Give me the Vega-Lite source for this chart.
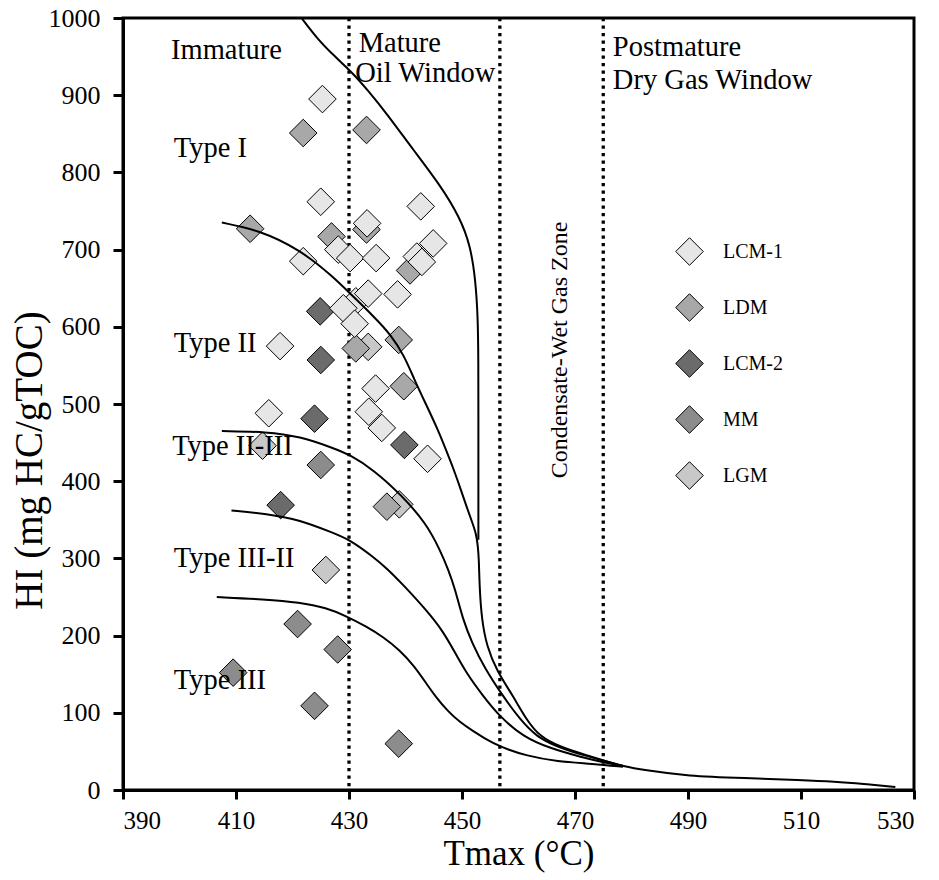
{
  "$schema": "https://vega.github.io/schema/vega-lite/v6.json",
  "width": 791,
  "height": 772,
  "autosize": {"type": "none"},
  "padding": {"left": 123, "top": 18, "right": 25, "bottom": 90},
  "background": "white",
  "config": {
    "font": "Liberation Serif",
    "view": {"stroke": "black", "strokeWidth": 3},
    "axis": {
      "grid": false,
      "domainColor": "black",
      "domainWidth": 3,
      "tickColor": "black",
      "tickWidth": 3,
      "labelColor": "black",
      "titleColor": "black",
      "labelFont": "Liberation Serif",
      "titleFont": "Liberation Serif",
      "titleFontWeight": "normal",
      "labelFontSize": 25,
      "titleFontSize": 35
    }
  },
  "datasets": {
    "pts": [
      {"g": "LGM", "t": 433.4, "hi": 574},
      {"g": "LGM", "t": 414.7, "hi": 446},
      {"g": "LGM", "t": 438.9, "hi": 370},
      {"g": "LGM", "t": 425.9, "hi": 285},
      {"g": "MM", "t": 425.0, "hi": 421},
      {"g": "MM", "t": 420.9, "hi": 215},
      {"g": "MM", "t": 428.0, "hi": 182},
      {"g": "MM", "t": 409.5, "hi": 152},
      {"g": "MM", "t": 423.9, "hi": 109},
      {"g": "MM", "t": 438.8, "hi": 60},
      {"g": "LCM-2", "t": 424.9, "hi": 620},
      {"g": "LCM-2", "t": 425.0, "hi": 557},
      {"g": "LCM-2", "t": 423.9, "hi": 481},
      {"g": "LCM-2", "t": 439.8, "hi": 447},
      {"g": "LCM-2", "t": 417.9, "hi": 369},
      {"g": "LDM", "t": 421.9, "hi": 851},
      {"g": "LDM", "t": 433.1, "hi": 855},
      {"g": "LDM", "t": 412.5, "hi": 727},
      {"g": "LDM", "t": 433.1, "hi": 726},
      {"g": "LDM", "t": 426.9, "hi": 717},
      {"g": "LDM", "t": 440.8, "hi": 673},
      {"g": "LDM", "t": 438.8, "hi": 583},
      {"g": "LDM", "t": 431.2, "hi": 572},
      {"g": "LDM", "t": 439.7, "hi": 523},
      {"g": "LDM", "t": 436.7, "hi": 367},
      {"g": "LCM-1", "t": 425.3, "hi": 895},
      {"g": "LCM-1", "t": 425.0, "hi": 762},
      {"g": "LCM-1", "t": 442.7, "hi": 756},
      {"g": "LCM-1", "t": 433.2, "hi": 734},
      {"g": "LCM-1", "t": 444.9, "hi": 708},
      {"g": "LCM-1", "t": 421.9, "hi": 685},
      {"g": "LCM-1", "t": 428.1, "hi": 700},
      {"g": "LCM-1", "t": 430.2, "hi": 689},
      {"g": "LCM-1", "t": 434.8, "hi": 689},
      {"g": "LCM-1", "t": 442.0, "hi": 691},
      {"g": "LCM-1", "t": 442.9, "hi": 684},
      {"g": "LCM-1", "t": 431.2, "hi": 633},
      {"g": "LCM-1", "t": 433.4, "hi": 643},
      {"g": "LCM-1", "t": 438.6, "hi": 642},
      {"g": "LCM-1", "t": 429.0, "hi": 624},
      {"g": "LCM-1", "t": 431.0, "hi": 604},
      {"g": "LCM-1", "t": 417.8, "hi": 575},
      {"g": "LCM-1", "t": 434.7, "hi": 520},
      {"g": "LCM-1", "t": 415.8, "hi": 488},
      {"g": "LCM-1", "t": 433.5, "hi": 490},
      {"g": "LCM-1", "t": 435.8, "hi": 469},
      {"g": "LCM-1", "t": 443.9, "hi": 429}
    ],
    "curves": [
      {"s": "I", "i": 1, "t": 421.6, "hi": 1000},
      {"s": "I", "i": 2, "t": 424.5, "hi": 972},
      {"s": "I", "i": 3, "t": 427.5, "hi": 950},
      {"s": "I", "i": 4, "t": 430.5, "hi": 930},
      {"s": "I", "i": 5, "t": 433.5, "hi": 905},
      {"s": "I", "i": 6, "t": 436.7, "hi": 876},
      {"s": "I", "i": 7, "t": 441.4, "hi": 829},
      {"s": "I", "i": 8, "t": 446.1, "hi": 784},
      {"s": "I", "i": 9, "t": 449.6, "hi": 742},
      {"s": "I", "i": 10, "t": 451.5, "hi": 705},
      {"s": "I", "i": 11, "t": 452.4, "hi": 660},
      {"s": "I", "i": 12, "t": 452.8, "hi": 613},
      {"s": "I", "i": 13, "t": 452.9, "hi": 560},
      {"s": "I", "i": 14, "t": 452.9, "hi": 480},
      {"s": "I", "i": 15, "t": 452.9, "hi": 400},
      {"s": "I", "i": 16, "t": 452.9, "hi": 324},
      {"s": "II", "i": 1, "t": 407.5, "hi": 735},
      {"s": "II", "i": 2, "t": 414.2, "hi": 725},
      {"s": "II", "i": 3, "t": 421.3, "hi": 700},
      {"s": "II", "i": 4, "t": 427.2, "hi": 665},
      {"s": "II", "i": 5, "t": 430.2, "hi": 643},
      {"s": "II", "i": 6, "t": 434.3, "hi": 614},
      {"s": "II", "i": 7, "t": 437.5, "hi": 589},
      {"s": "II", "i": 8, "t": 439.8, "hi": 562},
      {"s": "II", "i": 9, "t": 441.6, "hi": 531},
      {"s": "II", "i": 10, "t": 443.6, "hi": 500},
      {"s": "II", "i": 11, "t": 445.6, "hi": 469},
      {"s": "II", "i": 12, "t": 447.2, "hi": 440},
      {"s": "II", "i": 13, "t": 448.6, "hi": 414},
      {"s": "II", "i": 14, "t": 449.8, "hi": 389},
      {"s": "II", "i": 15, "t": 450.9, "hi": 365},
      {"s": "II", "i": 16, "t": 451.8, "hi": 347},
      {"s": "II", "i": 17, "t": 452.5, "hi": 332},
      {"s": "II", "i": 18, "t": 452.8, "hi": 317},
      {"s": "II", "i": 19, "t": 453.0, "hi": 298},
      {"s": "II", "i": 20, "t": 453.1, "hi": 263},
      {"s": "II", "i": 21, "t": 453.5, "hi": 220},
      {"s": "II", "i": 22, "t": 454.4, "hi": 186},
      {"s": "II", "i": 23, "t": 456.1, "hi": 155},
      {"s": "II", "i": 24, "t": 459.1, "hi": 121},
      {"s": "II", "i": 25, "t": 461.4, "hi": 91},
      {"s": "II", "i": 26, "t": 463.8, "hi": 69},
      {"s": "II", "i": 27, "t": 467.3, "hi": 56},
      {"s": "II", "i": 28, "t": 472.1, "hi": 45},
      {"s": "II", "i": 29, "t": 475.6, "hi": 37},
      {"s": "II", "i": 30, "t": 478.5, "hi": 31},
      {"s": "II", "i": 31, "t": 482.0, "hi": 26},
      {"s": "II", "i": 32, "t": 490.0, "hi": 18},
      {"s": "II", "i": 33, "t": 500.0, "hi": 15.5},
      {"s": "II", "i": 34, "t": 510.0, "hi": 13},
      {"s": "II", "i": 35, "t": 516.0, "hi": 11},
      {"s": "II", "i": 36, "t": 521.0, "hi": 8},
      {"s": "II", "i": 37, "t": 526.7, "hi": 4},
      {"s": "II-III", "i": 1, "t": 407.5, "hi": 465},
      {"s": "II-III", "i": 2, "t": 415.4, "hi": 464},
      {"s": "II-III", "i": 3, "t": 421.3, "hi": 458},
      {"s": "II-III", "i": 4, "t": 427.2, "hi": 443},
      {"s": "II-III", "i": 5, "t": 430.2, "hi": 434},
      {"s": "II-III", "i": 6, "t": 434.3, "hi": 415},
      {"s": "II-III", "i": 7, "t": 439.3, "hi": 382},
      {"s": "II-III", "i": 8, "t": 443.7, "hi": 345},
      {"s": "II-III", "i": 9, "t": 446.1, "hi": 311},
      {"s": "II-III", "i": 10, "t": 447.6, "hi": 285},
      {"s": "II-III", "i": 11, "t": 448.8, "hi": 260},
      {"s": "II-III", "i": 12, "t": 450.1, "hi": 222},
      {"s": "II-III", "i": 13, "t": 451.8, "hi": 190},
      {"s": "II-III", "i": 14, "t": 454.0, "hi": 158},
      {"s": "II-III", "i": 15, "t": 457.3, "hi": 121},
      {"s": "II-III", "i": 16, "t": 460.3, "hi": 91},
      {"s": "II-III", "i": 17, "t": 463.2, "hi": 69},
      {"s": "II-III", "i": 18, "t": 466.8, "hi": 56},
      {"s": "II-III", "i": 19, "t": 471.5, "hi": 45},
      {"s": "II-III", "i": 20, "t": 475.6, "hi": 37},
      {"s": "II-III", "i": 21, "t": 478.5, "hi": 31},
      {"s": "III-II", "i": 1, "t": 409.2, "hi": 362},
      {"s": "III-II", "i": 2, "t": 415.4, "hi": 358},
      {"s": "III-II", "i": 3, "t": 421.3, "hi": 350},
      {"s": "III-II", "i": 4, "t": 427.2, "hi": 333},
      {"s": "III-II", "i": 5, "t": 430.2, "hi": 324},
      {"s": "III-II", "i": 6, "t": 434.3, "hi": 302},
      {"s": "III-II", "i": 7, "t": 436.7, "hi": 287},
      {"s": "III-II", "i": 8, "t": 439.3, "hi": 268},
      {"s": "III-II", "i": 9, "t": 443.7, "hi": 233},
      {"s": "III-II", "i": 10, "t": 446.7, "hi": 205},
      {"s": "III-II", "i": 11, "t": 448.6, "hi": 180},
      {"s": "III-II", "i": 12, "t": 450.8, "hi": 151},
      {"s": "III-II", "i": 13, "t": 453.8, "hi": 121},
      {"s": "III-II", "i": 14, "t": 456.7, "hi": 95},
      {"s": "III-II", "i": 15, "t": 460.8, "hi": 69},
      {"s": "III-II", "i": 16, "t": 465.6, "hi": 54},
      {"s": "III-II", "i": 17, "t": 470.9, "hi": 43},
      {"s": "III-II", "i": 18, "t": 475.6, "hi": 35},
      {"s": "III-II", "i": 19, "t": 478.5, "hi": 31},
      {"s": "III", "i": 1, "t": 406.6, "hi": 250},
      {"s": "III", "i": 2, "t": 415.0, "hi": 247},
      {"s": "III", "i": 3, "t": 421.3, "hi": 243},
      {"s": "III", "i": 4, "t": 426.0, "hi": 236},
      {"s": "III", "i": 5, "t": 429.6, "hi": 225},
      {"s": "III", "i": 6, "t": 433.0, "hi": 212},
      {"s": "III", "i": 7, "t": 436.1, "hi": 198},
      {"s": "III", "i": 8, "t": 439.0, "hi": 181},
      {"s": "III", "i": 9, "t": 441.6, "hi": 160},
      {"s": "III", "i": 10, "t": 443.5, "hi": 140},
      {"s": "III", "i": 11, "t": 445.3, "hi": 121},
      {"s": "III", "i": 12, "t": 447.5, "hi": 102},
      {"s": "III", "i": 13, "t": 449.6, "hi": 88},
      {"s": "III", "i": 14, "t": 452.0, "hi": 76},
      {"s": "III", "i": 15, "t": 454.0, "hi": 67},
      {"s": "III", "i": 16, "t": 456.7, "hi": 56},
      {"s": "III", "i": 17, "t": 461.5, "hi": 44},
      {"s": "III", "i": 18, "t": 466.8, "hi": 37},
      {"s": "III", "i": 19, "t": 473.2, "hi": 34},
      {"s": "III", "i": 20, "t": 478.5, "hi": 30}
    ],
    "bounds": [{"t": 430}, {"t": 456.7}, {"t": 475}],
    "leftText": [
      {"txt": "Immature", "t": 398.5, "hi": 958},
      {"txt": "Postmature", "t": 476.7, "hi": 962},
      {"txt": "Dry Gas Window", "t": 476.7, "hi": 920},
      {"txt": "Type I", "t": 399.0, "hi": 832},
      {"txt": "Type II", "t": 399.0, "hi": 579},
      {"txt": "Type II-III", "t": 398.7, "hi": 446},
      {"txt": "Type III-II", "t": 399.0, "hi": 300},
      {"txt": "Type III", "t": 399.0, "hi": 142}
    ],
    "midText": [
      {"txt": "Mature", "t": 439.0, "hi": 967},
      {"txt": "Oil Window", "t": 443.5, "hi": 929}
    ],
    "rotText": [
      {"txt": "Condensate-Wet Gas Zone", "t": 467.3, "hi": 570}
    ]
  },
  "layer": [
    {
      "data": {"name": "bounds"},
      "mark": {"type": "rule", "color": "black", "strokeWidth": 3.3, "strokeDash": [3.3, 4.2]},
      "encoding": {
        "x": {"field": "t", "type": "quantitative"}
      }
    },
    {
      "data": {"name": "pts"},
      "mark": {"type": "point", "shape": "diamond", "filled": true, "size": 760, "stroke": "black", "strokeWidth": 1, "opacity": 1},
      "encoding": {
        "x": {
          "field": "t", "type": "quantitative",
          "scale": {"domain": [390, 530], "nice": false, "zero": false},
          "axis": {
            "values": [390, 410, 430, 450, 470, 490, 510, 530],
            "format": "d",
            "title": "Tmax (°C)",
            "tickSize": 9,
            "labelPadding": 9,
            "titleY": 74,
            "titleBaseline": "alphabetic"
          }
        },
        "y": {
          "field": "hi", "type": "quantitative",
          "scale": {"domain": [0, 1000], "nice": false},
          "axis": {
            "values": [0, 100, 200, 300, 400, 500, 600, 700, 800, 900, 1000],
            "format": "d",
            "title": "HI (mg HC/gTOC)",
            "titleFontSize": 39,
            "labelFontSize": 26,
            "tickSize": 10,
            "labelPadding": 13,
            "titleX": -82,
            "titleY": 442,
            "titleAngle": -90,
            "titleAlign": "center",
            "titleBaseline": "alphabetic"
          }
        },
        "fill": {
          "field": "g", "type": "nominal",
          "scale": {
            "domain": ["LCM-1", "LDM", "LCM-2", "MM", "LGM"],
            "range": ["#e6e6e6", "#a8a8a8", "#6b6b6b", "#8c8c8c", "#c8c8c8"]
          },
          "legend": {
            "orient": "none",
            "legendX": 552,
            "legendY": 219,
            "title": null,
            "padding": 0,
            "symbolType": "diamond",
            "symbolSize": 760,
            "symbolStrokeColor": "black",
            "symbolStrokeWidth": 1,
            "symbolOpacity": 1,
            "labelFont": "Liberation Serif",
            "labelFontSize": 20,
            "labelColor": "black",
            "labelOffset": 19,
            "rowPadding": 23
          }
        }
      }
    },
    {
      "data": {"name": "curves"},
      "mark": {"type": "line", "color": "black", "strokeWidth": 2, "interpolate": "basis"},
      "encoding": {
        "x": {"field": "t", "type": "quantitative"},
        "y": {"field": "hi", "type": "quantitative"},
        "detail": {"field": "s", "type": "nominal"},
        "order": {"field": "i", "type": "quantitative"}
      }
    },
    {
      "data": {"name": "leftText"},
      "mark": {"type": "text", "align": "left", "baseline": "middle", "fontSize": 28.5, "font": "Liberation Serif", "color": "black"},
      "encoding": {
        "x": {"field": "t", "type": "quantitative"},
        "y": {"field": "hi", "type": "quantitative"},
        "text": {"field": "txt"}
      }
    },
    {
      "data": {"name": "midText"},
      "mark": {"type": "text", "align": "center", "baseline": "middle", "fontSize": 28.5, "font": "Liberation Serif", "color": "black"},
      "encoding": {
        "x": {"field": "t", "type": "quantitative"},
        "y": {"field": "hi", "type": "quantitative"},
        "text": {"field": "txt"}
      }
    },
    {
      "data": {"name": "rotText"},
      "mark": {"type": "text", "align": "center", "baseline": "middle", "angle": 270, "fontSize": 24, "font": "Liberation Serif", "color": "black"},
      "encoding": {
        "x": {"field": "t", "type": "quantitative"},
        "y": {"field": "hi", "type": "quantitative"},
        "text": {"field": "txt"}
      }
    }
  ]
}
